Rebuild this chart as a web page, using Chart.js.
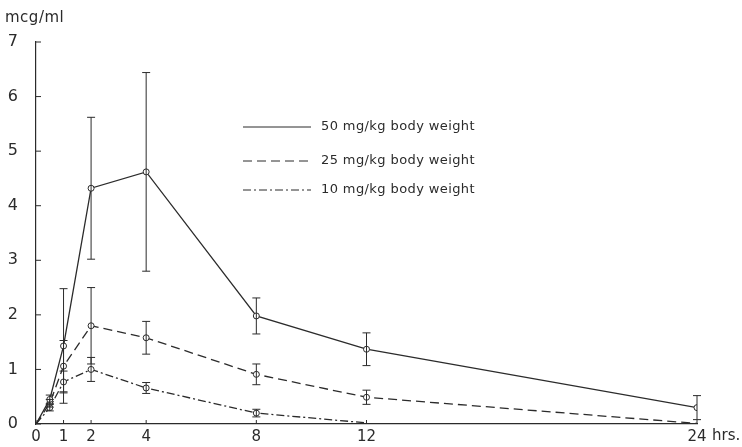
<!DOCTYPE html>
<html>
<head>
<meta charset="utf-8">
<script src="https://cdn.jsdelivr.net/npm/chart.js@4"></script>
<style>
  html, body { margin: 0; padding: 0; background: #fff; }
  #wrap { width: 742px; height: 447px; }
</style>
</head>
<body>
<div id="wrap"><canvas id="serumChart" width="742" height="447"></canvas></div>
<script>
// hours after dose
const hours = [0, 0.5, 1, 2, 4, 8, 12, 24];
const hours10 = [0, 0.5, 1, 2, 4, 8, 12];
const xTicks = [0, 1, 2, 4, 8, 12, 24];
const yTicks = [0, 1, 2, 3, 4, 5, 6, 7];

// serum level, mcg/ml, and error bar half-widths
const conc50 = [0, 0.45, 1.43, 4.32, 4.62, 1.98, 1.37, 0.3];
const err50 = [0, 0.08, 1.05, 1.3, 1.82, 0.33, 0.3, 0.22];
const conc25 = [0, 0.38, 1.06, 1.8, 1.58, 0.91, 0.49, 0.01];
const err25 = [0, 0.07, 0.47, 0.7, 0.3, 0.19, 0.13, 0];
const conc10 = [0, 0.3, 0.77, 1.0, 0.66, 0.2, 0.02];
const err10 = [0, 0.06, 0.2, 0.22, 0.1, 0.07, 0];

const seriesLabels = ["50 mg/kg body weight", "25 mg/kg body weight", "10 mg/kg body weight"];

const ink = "#2b2b2b";
const font = "DejaVu Sans";

function toPoints(xs, ys) {
    return xs.map((x, i) => ({ x: x, y: ys[i] }));
}

function makeSet(label, xs, ys, errs, dash) {
    return {
        label: label,
        data: toPoints(xs, ys),
        errors: errs,
        borderColor: ink,
        borderWidth: 1.3,
        borderDash: dash,
        backgroundColor: "#fff",
        pointBorderColor: ink,
        pointBackgroundColor: "#fff",
        pointBorderWidth: 1,
        pointRadius: ctx => (ctx.raw && ctx.raw.y > 0.05 ? 3 : 0),
        tension: 0
    };
}

// error bars, inside ticks, legend and axis texts
const decorations = {
    id: "decorations",
    afterDatasetsDraw(chart) {
        const c = chart.ctx;
        const xs = chart.scales.x;
        const ys = chart.scales.y;
        const area = chart.chartArea;

        c.save();
        c.strokeStyle = ink;
        c.lineWidth = 1;
        c.setLineDash([]);

        chart.data.datasets.forEach(ds => {
            ds.data.forEach((p, i) => {
                const e = ds.errors[i];
                if (!e) return;
                const px = xs.getPixelForValue(p.x);
                const top = ys.getPixelForValue(p.y + e);
                const bot = ys.getPixelForValue(Math.max(0, p.y - e));
                c.beginPath();
                c.moveTo(px, top); c.lineTo(px, bot);
                c.moveTo(px - 4, top); c.lineTo(px + 4, top);
                c.moveTo(px - 4, bot); c.lineTo(px + 4, bot);
                c.stroke();
            });
        });

        // ticks pointing into the plot
        yTicks.forEach(v => {
            const py = ys.getPixelForValue(v);
            c.beginPath();
            c.moveTo(area.left, py); c.lineTo(area.left + 5, py);
            c.stroke();
        });
        xTicks.forEach(v => {
            const px = xs.getPixelForValue(v);
            c.beginPath();
            c.moveTo(px, area.bottom); c.lineTo(px, area.bottom - 4);
            c.stroke();
        });

        // legend
        const legX = 243, legW = 68, legY = [127, 161, 190];
        c.font = "13px '" + font + "'";
        c.letterSpacing = "0.4px";
        c.fillStyle = ink;
        c.textBaseline = "middle";
        chart.data.datasets.forEach((ds, i) => {
            c.lineWidth = 1;
            c.setLineDash(ds.borderDash || []);
            c.beginPath();
            c.moveTo(legX, legY[i]); c.lineTo(legX + legW, legY[i]);
            c.stroke();
            c.setLineDash([]);
            c.fillText(ds.label, 321, legY[i]);
        });

        // axis titles
        c.font = "15px '" + font + "'";
        c.letterSpacing = "0.5px";
        c.textBaseline = "alphabetic";
        c.fillText("mcg/ml", 5, 22);
        c.letterSpacing = "0px";
        c.textBaseline = "middle";
        c.fillText("hrs.", xs.getPixelForValue(24) + 15, area.bottom + 12);
        c.restore();
    }
};

new Chart(document.getElementById("serumChart"), {
    type: "line",
    data: {
        datasets: [
            makeSet(seriesLabels[0], hours, conc50, err50, []),
            makeSet(seriesLabels[1], hours, conc25, err25, [9, 5]),
            makeSet(seriesLabels[2], hours10, conc10, err10, [8, 3, 2, 3])
        ]
    },
    plugins: [decorations],
    options: {
        responsive: false,
        animation: false,
        layout: { padding: { top: 42, right: 45, left: 0, bottom: 0 } },
        plugins: {
            legend: { display: false },
            tooltip: { enabled: false }
        },
        scales: {
            x: {
                type: "linear",
                min: 0,
                max: 24,
                afterBuildTicks: axis => { axis.ticks = xTicks.map(v => ({ value: v })); },
                afterFit: axis => { axis.height = 23; },
                grid: { display: false, drawTicks: false },
                border: { display: true, color: ink, width: 1.2 },
                ticks: {
                    color: ink,
                    padding: 4,
                    maxRotation: 0,
                    autoSkip: false,
                    font: { family: font, size: 15 }
                }
            },
            y: {
                min: 0,
                max: 7,
                afterBuildTicks: axis => { axis.ticks = yTicks.map(v => ({ value: v })); },
                afterFit: axis => { axis.width = 36; },
                grid: { display: false },
                border: { display: true, color: ink, width: 1.2 },
                ticks: {
                    color: ink,
                    padding: 10,
                    font: { family: font, size: 16 }
                }
            }
        }
    }
});
</script>
</body>
</html>
